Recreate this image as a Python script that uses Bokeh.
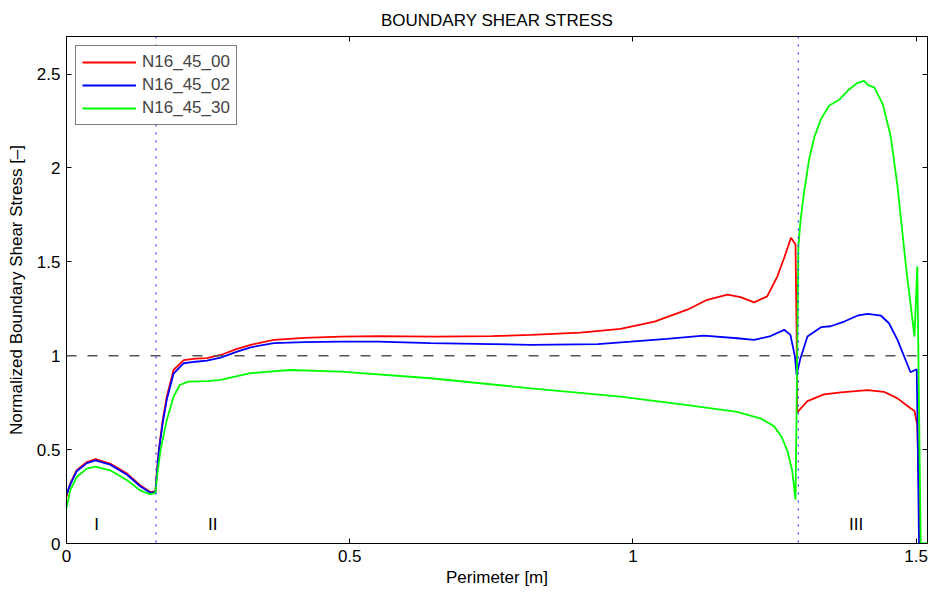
from bokeh.plotting import figure
from bokeh.models import (Span, Label, FixedTicker, CustomJSTickFormatter, LinearAxis,
                          Range1d, Legend, LegendItem)
from bokeh.embed import file_html
from bokeh.resources import INLINE

# ---------------- data ----------------
x_00 = [0, 0.0065, 0.018, 0.036, 0.051, 0.077, 0.107, 0.13, 0.148, 0.157, 0.159, 0.163, 0.170,
        0.177, 0.189, 0.207, 0.228, 0.248, 0.272, 0.3, 0.325, 0.366, 0.42, 0.484, 0.55, 0.65,
        0.75, 0.82, 0.907, 0.978, 1.038, 1.096, 1.131, 1.167, 1.19, 1.214, 1.237, 1.255, 1.268,
        1.279, 1.287, 1.289, 1.290, 1.308, 1.337, 1.367, 1.414, 1.443, 1.467, 1.49, 1.497,
        1.502, 1.507]
y_00 = [0.25, 0.319, 0.39, 0.434, 0.449, 0.426, 0.372, 0.31, 0.274, 0.278, 0.36, 0.5, 0.66,
        0.782, 0.924, 0.977, 0.985, 0.987, 1.004, 1.035, 1.058, 1.084, 1.095, 1.102, 1.104, 1.102,
        1.104, 1.111, 1.123, 1.143, 1.182, 1.245, 1.298, 1.325, 1.312, 1.284, 1.316, 1.423, 1.53,
        1.628, 1.592, 1.1, 0.698, 0.758, 0.794, 0.805, 0.817, 0.808, 0.773, 0.72, 0.706,
        0.63, 0.0]

x_02 = [0, 0.0065, 0.018, 0.036, 0.051, 0.077, 0.107, 0.13, 0.148, 0.157, 0.159, 0.163, 0.170,
        0.177, 0.189, 0.207, 0.228, 0.248, 0.272, 0.3, 0.325, 0.366, 0.42, 0.484, 0.55, 0.643,
        0.75, 0.82, 0.938, 0.996, 1.06, 1.125, 1.184, 1.214, 1.243, 1.267, 1.278, 1.286, 1.289,
        1.295, 1.308, 1.332, 1.349, 1.373, 1.396, 1.414, 1.438, 1.452, 1.467, 1.49, 1.501,
        1.503, 1.505]
y_02 = [0.262, 0.312, 0.385, 0.428, 0.443, 0.42, 0.366, 0.305, 0.27, 0.273, 0.35, 0.49, 0.645,
        0.765, 0.905, 0.96, 0.968, 0.974, 0.99, 1.02, 1.045, 1.067, 1.072, 1.075, 1.075, 1.067,
        1.062, 1.058, 1.062, 1.075, 1.09, 1.107, 1.093, 1.084, 1.105, 1.138, 1.111, 0.995, 0.897,
        0.978, 1.102, 1.152, 1.157, 1.182, 1.213, 1.223, 1.213, 1.173, 1.084, 0.912, 0.928,
        0.5, 0.0]

x_30 = [0, 0.0065, 0.018, 0.036, 0.051, 0.077, 0.107, 0.13, 0.148, 0.157, 0.160, 0.166, 0.177,
        0.189, 0.2, 0.215, 0.25, 0.272, 0.325, 0.395, 0.484, 0.643, 0.82, 0.978, 1.096, 1.184,
        1.226, 1.249, 1.262, 1.273, 1.281, 1.287, 1.290, 1.292, 1.296, 1.302, 1.311, 1.32,
        1.332, 1.346, 1.364, 1.379, 1.396, 1.408, 1.415, 1.426, 1.441, 1.455, 1.467, 1.482,
        1.497, 1.502, 1.508, 1.52]
y_30 = [0.187, 0.283, 0.354, 0.399, 0.41, 0.39, 0.337, 0.283, 0.262, 0.27, 0.36, 0.497, 0.657,
        0.782, 0.844, 0.862, 0.865, 0.871, 0.907, 0.924, 0.915, 0.88, 0.826, 0.782, 0.737, 0.701,
        0.665, 0.625, 0.57, 0.49, 0.39, 0.233, 1.0, 1.58, 1.725, 1.868, 2.046, 2.162,
        2.26, 2.331, 2.363, 2.411, 2.452, 2.464, 2.441, 2.429, 2.34, 2.17, 1.903, 1.476,
        1.102, 1.476, 0.0, 0.0]

series_names = ["N16_45_00", "N16_45_02", "N16_45_30"]
series_colors = ["#ff0000", "#0000ff", "#00ff00"]

zone_bounds = [0.158, 1.292]
zone_labels = ["I", "II", "III"]
zone_label_x = [0.053, 0.258, 1.394]
zone_label_y = 0.1
ref_level = 1.0

x_ticks = [0, 0.5, 1, 1.5]
y_ticks = [0, 0.5, 1, 1.5, 2, 2.5]

FONT = "Liberation Sans"
FS = "17px"

# ---------------- figure ----------------
p = figure(width=933, height=594, output_backend="svg", toolbar_location=None,
           x_range=Range1d(0, 1.52), y_range=Range1d(0, 2.7),
           min_border_left=66, min_border_right=6, min_border_top=36, min_border_bottom=51,
           title="BOUNDARY SHEAR STRESS")
p.title.align = "center"
p.title.vertical_align = "top"
p.title.text_font = FONT
p.title.text_font_size = "17px"
p.title.text_font_style = "normal"
p.title.text_color = "black"
p.xgrid.visible = False
p.ygrid.visible = False
p.outline_line_color = "black"
p.outline_line_width = 1
p.background_fill_color = "white"
p.border_fill_color = "white"

fmt = CustomJSTickFormatter(code="return String(tick);")

for ax, ticks in ((p.xaxis[0], x_ticks), (p.yaxis[0], y_ticks)):
    ax.ticker = FixedTicker(ticks=ticks)
    ax.formatter = fmt
    ax.major_tick_in = 5
    ax.major_tick_out = 0
    ax.minor_tick_line_color = None
    ax.axis_line_color = "black"
    ax.major_tick_line_color = "black"
    ax.major_label_text_font = FONT
    ax.major_label_text_font_size = FS
    ax.major_label_text_color = "black"
    ax.axis_label_text_font = FONT
    ax.axis_label_text_font_size = FS
    ax.axis_label_text_font_style = "normal"
    ax.axis_label_text_color = "black"

p.xaxis[0].axis_label = "Perimeter [m]"
p.xaxis[0].major_label_standoff = 6
p.xaxis[0].axis_label_standoff = 3
p.yaxis[0].axis_label = "Normalized Boundary Shear Stress [–]"
p.yaxis[0].major_label_standoff = 6
p.yaxis[0].axis_label_standoff = 8

# mirrored axes (ticks only, no labels)
top_ax = LinearAxis(ticker=FixedTicker(ticks=x_ticks), major_tick_in=5, major_tick_out=0,
                    minor_tick_line_color=None, major_label_text_color=None,
                    major_label_text_font_size="1px", major_label_standoff=0,
                    axis_line_color=None)
right_ax = LinearAxis(ticker=FixedTicker(ticks=y_ticks), major_tick_in=5, major_tick_out=0,
                      minor_tick_line_color=None, major_label_text_color=None,
                      major_label_text_font_size="1px", major_label_standoff=0,
                      axis_line_color=None)
p.add_layout(top_ax, "above")
p.add_layout(right_ax, "right")

# reference lines
p.add_layout(Span(location=ref_level, dimension="width", line_color="#555555",
                  line_dash="10 11", line_width=1.5))
for b in zone_bounds:
    p.add_layout(Span(location=b, dimension="height", line_color="#3333ff", line_alpha=1.0,
                      line_dash="2 6", line_width=1.2))

# series
renderers = []
for xs, ys, c in zip((x_00, x_02, x_30), (y_00, y_02, y_30), series_colors):
    r = p.line(xs, ys, line_color=c, line_width=1.8)
    renderers.append(r)

# zone labels
for t, xl in zip(zone_labels, zone_label_x):
    p.add_layout(Label(x=xl, y=zone_label_y, text=t, text_align="center",
                       text_baseline="middle", text_font=FONT, text_font_size=FS,
                       text_color="black"))

legend = Legend(items=[LegendItem(label=n, renderers=[r]) for n, r in zip(series_names, renderers)],
                location="top_left", margin=9, padding=6, spacing=3,
                glyph_width=54, glyph_height=18, label_height=18, label_standoff=6,
                label_text_font=FONT, label_text_font_size=FS,
                border_line_color="black", border_line_width=1,
                background_fill_color="white", background_fill_alpha=1)
p.add_layout(legend)

open("out.html", "w").write(file_html(p, INLINE))
